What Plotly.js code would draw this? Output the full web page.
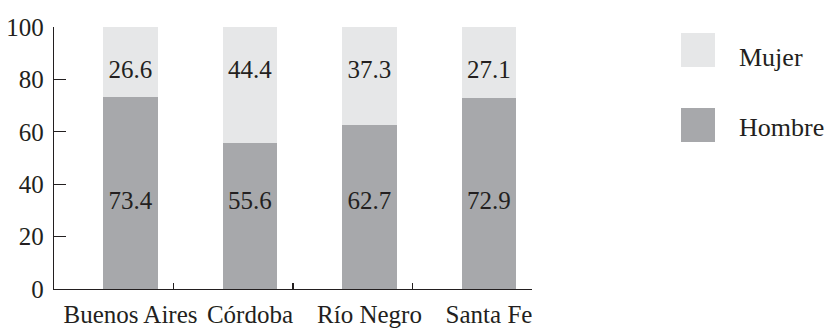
<!DOCTYPE html>
<html>
<head>
<meta charset="utf-8">
<script src="https://cdn.plot.ly/plotly-3.0.1.min.js"></script>
<style>
  html, body { margin: 0; padding: 0; background: #ffffff; }
  #chart { width: 828px; height: 329px; }
</style>
</head>
<body>
<div id="chart"></div>
<script>
// Provinces and share of each sex (%)
const provincias = ['Buenos Aires', 'Córdoba', 'Río Negro', 'Santa Fe'];
const hombre = [73.4, 55.6, 62.7, 72.9];
const mujer = [26.6, 44.4, 37.3, 27.1];
const series = ['Mujer', 'Hombre'];
const yTicks = [0, 20, 40, 60, 80, 100];

const colHombre = '#a7a8ab';
const colMujer = '#e6e7e8';
const ink = '#231f20';
const FONT = 'Liberation Serif';

const idx = provincias.map((_, i) => i);
// category slot boundaries sit a bit right of each bar
const slotShift = 0.36;
const bounds = idx.map(i => i + slotShift);
const xRange = [-1 + slotShift, provincias.length - 1 + slotShift];

// value labels sit on two fixed rows
const rowMujer = 83;
const rowHombre = 33;

const traces = [
  {
    type: 'bar', x: idx, y: hombre, name: 'Hombre',
    marker: { color: colHombre }, width: 0.46,
    hoverinfo: 'skip', showlegend: false
  },
  {
    type: 'bar', x: idx, y: mujer, name: 'Mujer',
    marker: { color: colMujer }, width: 0.46,
    hoverinfo: 'skip', showlegend: false
  },
  {
    type: 'scatter', mode: 'text', x: idx, y: idx.map(() => rowHombre),
    text: hombre.map(v => v.toFixed(1)), textposition: 'middle center',
    textfont: { family: FONT, size: 25, color: ink },
    hoverinfo: 'skip', showlegend: false
  },
  {
    type: 'scatter', mode: 'text', x: idx, y: idx.map(() => rowMujer),
    text: mujer.map(v => v.toFixed(1)), textposition: 'middle center',
    textfont: { family: FONT, size: 25, color: ink },
    hoverinfo: 'skip', showlegend: false
  },
  // tick marks between provinces
  {
    type: 'scatter', mode: 'markers', x: bounds, y: bounds.map(() => 0),
    xaxis: 'x2', yaxis: 'y', marker: { opacity: 0 },
    hoverinfo: 'skip', showlegend: false
  },
  // key: swatches
  {
    type: 'scatter', mode: 'markers', x: [17, 17], y: [0, 1],
    xaxis: 'x3', yaxis: 'y3',
    marker: { symbol: 'square', size: 34, color: [colMujer, colHombre] },
    hoverinfo: 'skip', showlegend: false
  },
  // key: names, sitting slightly low against their swatches
  {
    type: 'scatter', mode: 'text', x: [58, 58], y: [0.12, 1.06],
    xaxis: 'x3', yaxis: 'y3',
    text: series, textposition: 'middle right',
    textfont: { family: FONT, size: 26, color: ink },
    hoverinfo: 'skip', showlegend: false
  }
];

const plotW = 828 - 54;
const layout = {
  width: 828, height: 329,
  margin: { l: 54, r: 0, t: 27, b: 40, pad: 0 },
  paper_bgcolor: '#ffffff', plot_bgcolor: '#ffffff',
  barmode: 'stack',
  font: { family: FONT, size: 25, color: ink },
  showlegend: false,
  xaxis: {
    domain: [0, 478 / plotW],
    range: xRange, tickvals: idx, ticktext: provincias,
    ticks: '', showgrid: false, zeroline: false,
    showline: true, linecolor: ink, linewidth: 1.3,
    tickfont: { family: FONT, size: 25, color: ink },
    ticklabelstandoff: 3, fixedrange: true
  },
  xaxis2: {
    overlaying: 'x', anchor: 'y', side: 'bottom',
    range: xRange, tickvals: bounds, showticklabels: false,
    ticks: 'inside', ticklen: 6, tickwidth: 1.3, tickcolor: ink,
    showgrid: false, zeroline: false, showline: false, fixedrange: true
  },
  yaxis: {
    range: [0, 100], tickvals: yTicks,
    ticks: 'inside', ticklen: 12, tickwidth: 1.3, tickcolor: ink,
    showgrid: false, zeroline: false,
    showline: true, linecolor: ink, linewidth: 1.3,
    tickfont: { family: FONT, size: 25, color: ink },
    ticklabelstandoff: 4, fixedrange: true
  },
  xaxis3: {
    domain: [(681 - 54) / plotW, 1], anchor: 'y3', range: [0, 147],
    visible: false, fixedrange: true
  },
  yaxis3: {
    domain: [0, 1], anchor: 'x3', range: [3.187, -0.307],
    visible: false, fixedrange: true
  }
};

Plotly.newPlot('chart', traces, layout, { displayModeBar: false, staticPlot: true });
</script>
</body>
</html>
